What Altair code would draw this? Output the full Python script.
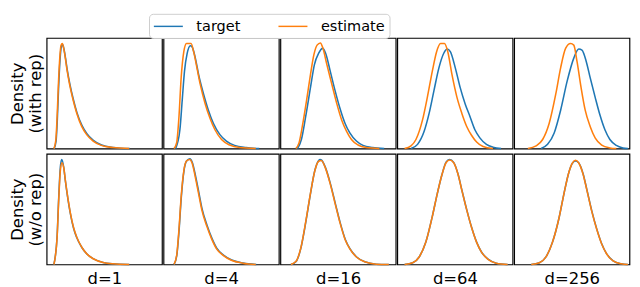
import altair as alt
import pandas as pd

BLUE = "#1f77b4"
ORANGE = "#ff7f0e"

dims = ["d=1", "d=4", "d=16", "d=64", "d=256"]
reps = ["with rep", "w/o rep"]
series = ["target", "estimate"]
row_titles = {"with rep": ["Density", "(with rep)"], "w/o rep": ["Density", "(w/o rep)"]}

# (x, density) pairs, x and density in percent of the panel's range
d1_rep_tgt = [(6.5, 0), (8.2, 7), (9.3, 27), (10.4, 56), (11.6, 80), (12.7, 92), (13.8, 94), (15.0, 90),
              (16.4, 81.5), (17.8, 71.5), (20.1, 58.5), (22.9, 45.5), (26.3, 32.5), (30.6, 21), (34.9, 13.5),
              (40.5, 7.5), (47.6, 3.2), (57.6, 1.0), (72, 0)]
d1_rep_est = [(6.3, 0), (8.0, 8), (9.1, 29), (10.2, 58), (11.4, 82), (12.5, 93.5), (13.6, 95), (14.8, 90.6),
              (16.2, 82), (17.6, 71.5), (19.9, 58), (22.7, 45), (26.1, 32), (30.4, 20), (34.7, 12.6),
              (40.3, 6.8), (47.4, 2.9), (57.4, 0.9), (71.6, 0)]
d1_norep_tgt = [(6.3, 0), (9.1, 26), (10.5, 61), (11.9, 88), (13.1, 95), (14.8, 88), (16.2, 76), (18.2, 61),
                (20.5, 46.5), (23.3, 33), (26.1, 24.4), (30.4, 15.6), (34.7, 9.7), (40.3, 5.3), (48.9, 1.8),
                (57.4, 0.6), (71.6, 0)]
d1_norep_est = [(6.3, 0), (9.1, 25), (10.5, 59), (11.9, 85), (13.3, 92), (14.9, 87), (16.3, 75.5), (18.3, 61),
                (20.6, 46.5), (23.4, 33.2), (26.2, 24.4), (30.5, 15.6), (34.8, 9.6), (40.4, 5.2), (49, 1.8),
                (57.5, 0.6), (71.6, 0)]

d4_rep_tgt = [(10.5, 0), (14.2, 17), (16.2, 43.5), (18.2, 70), (20.5, 86), (23.3, 93), (24.7, 92), (27.6, 81.8),
              (30.4, 67), (34.7, 49.4), (38.9, 34.7), (43.2, 22.9), (48.9, 12.6), (54.5, 6.8), (61.6, 2.9),
              (71.6, 0.9), (83, 0)]
d4_rep_est = [(9.1, 0), (11.4, 5.3), (13.4, 28.8), (15.3, 64), (17.6, 87.6), (19.9, 95), (23.9, 95), (26.1, 87.6),
              (29, 72.9), (31.8, 58.2), (36.1, 40.6), (40.3, 27.4), (44.6, 17), (50.3, 8.2), (57.4, 3.2),
              (65.9, 0.9), (80, 0)]
d4_norep_tgt = [(9.1, 0), (11.5, 8), (13.5, 31), (15.4, 60.5), (17.7, 84.5), (20.0, 93.5), (22.8, 95.5), (24.9, 92.5),
                (27.9, 79.5), (30.7, 64.8), (33.5, 50), (37.8, 35.3), (42.1, 23.4), (46.3, 14.5), (52.0, 8.5),
                (59.1, 4.0), (69.1, 1.3), (80.5, 0)]
d4_norep_est = [(9.1, 0), (11.4, 8.2), (13.4, 31.8), (15.3, 61.2), (17.6, 84.7), (19.9, 93.5), (22.7, 95), (24.7, 92),
                (27.6, 78.8), (30.4, 64.1), (33.2, 49.4), (37.5, 34.7), (41.8, 22.9), (46, 14.1), (51.7, 8.2),
                (58.8, 3.8), (68.8, 1.2), (80, 0)]

d16_rep_tgt = [(14.8, 0), (18.2, 8.2), (21.9, 28.8), (26.1, 55.3), (29.5, 75.9), (33.2, 86.2), (36.6, 90.6),
               (39.2, 86.2), (43.2, 70), (47.4, 52.4), (51.7, 36.2), (56, 22.9), (60.2, 14.1), (65.9, 6.8),
               (71.6, 2.9), (80, 0.9), (90, 0)]
d16_rep_est = [(13.4, 0), (16.2, 5.3), (19, 20), (22.7, 43.5), (26.1, 67), (29, 84.7), (31.8, 93.5), (34.7, 95.5),
               (36.9, 90.6), (40.3, 75.9), (44.6, 58.2), (48.9, 40.6), (53.1, 25.9), (57.4, 15.6), (61.6, 8.2),
               (67.3, 3.2), (74.4, 0.9), (85.8, 0)]
d16_norep_tgt = [(9.1, 0), (13.4, 2.4), (17.6, 14.1), (21.9, 37.6), (26.1, 64.1), (29.8, 84.7), (33.2, 94.1),
                 (34.4, 95), (35.7, 94.3), (39.1, 87.6), (43.4, 72.9), (47.6, 55.3), (51.9, 37.6), (56.2, 22.9),
                 (60.4, 14.1), (66.1, 6.8), (73.2, 2.4), (83, 0.3), (94, 0)]
d16_norep_est = [(9.1, 0), (13.4, 2.6), (17.6, 14.5), (21.9, 38.2), (26.1, 64.5), (29.8, 84.5), (33.2, 93.3),
                 (35.5, 94), (38.9, 87.6), (43.2, 72.9), (47.4, 55.3), (51.7, 37.6), (56, 22.9), (60.2, 14.1),
                 (65.9, 6.8), (73, 2.4), (83, 0.3), (94, 0)]

d64_rep_tgt = [(11.9, 0), (17.6, 3.8), (23.3, 15.6), (27.6, 31.8), (31.8, 52.4), (36.1, 73), (40.3, 86.2),
               (43.2, 90), (46, 87.6), (50.3, 73), (54.5, 55.3), (58.8, 40.6), (63.1, 28.8), (67.3, 17),
               (71.6, 9.7), (77.3, 3.8), (83, 1.2), (90, 0)]
d64_rep_est = [(6.3, 0), (11.9, 2.4), (16.2, 8.2), (21.9, 25.9), (26.1, 46.5), (30.4, 70), (34.1, 87.6),
               (37.5, 95), (40.9, 95), (43.8, 87.6), (47.4, 67), (51.7, 46.5), (56, 31.8), (60.2, 20),
               (64.5, 11.8), (68.8, 5.9), (74.4, 1.8), (83, 0)]
d64_norep_tgt = [(6.3, 0), (13.4, 1.5), (19, 6.8), (24.7, 20), (30.4, 43.5), (34.7, 64.1), (38.9, 81.8),
                 (42.3, 92.5), (45.3, 95), (48.9, 92.3), (52.6, 82), (56, 67.3), (60.2, 49.6), (64.5, 33.4),
                 (68.8, 20.2), (73, 11.3), (78.7, 4.8), (85.8, 1.2), (95.7, 0)]
d64_norep_est = [(6.3, 0), (13.4, 1.5), (19, 6.8), (24.7, 20), (30.4, 43.5), (34.7, 64.1), (38.9, 81.8),
                 (42.3, 92), (45.5, 94.4), (48.9, 92), (52.6, 81.8), (56, 67), (60.2, 49.4), (64.5, 33.2),
                 (68.8, 20), (73, 11.2), (78.7, 4.7), (85.8, 1.2), (95.7, 0)]

d256_rep_tgt = [(23.3, 0), (29, 3.8), (34.7, 14.1), (40.3, 34.7), (46, 61.2), (51.7, 81.8), (56, 90),
                (58.8, 89), (62.5, 78.8), (65.9, 64.1), (70.2, 46.5), (74.4, 30.3), (78.7, 17), (83, 8.2),
                (88.6, 2.9), (94.3, 0.6), (98.6, 0)]
d256_rep_est = [(11.9, 0), (19, 2.4), (24.7, 8.2), (30.4, 22.9), (36.1, 49.4), (40.3, 73), (44.6, 90.6),
                (48.9, 95), (51.7, 93.5), (54.5, 78.8), (58, 55.3), (61.6, 34.7), (65.9, 20), (70.2, 9.7),
                (75.9, 3.2), (83, 0.6), (88.6, 0)]
d256_norep_tgt = [(14.8, 0), (21.9, 1.5), (27.6, 6.8), (33.2, 20), (38.9, 42), (43.2, 64.1), (47.4, 83.2),
                  (50.3, 91.2), (53.1, 93.5), (55.9, 92), (59.7, 82.3), (63.1, 67.5), (67.3, 48.5), (71.6, 32.2),
                  (75.9, 18.8), (80.1, 9.9), (85.8, 3.3), (92.9, 0.6), (98.6, 0)]
d256_norep_est = [(14.8, 0), (21.9, 1.5), (27.6, 6.8), (33.2, 20), (38.9, 42), (43.2, 64.1), (47.4, 83.2),
                  (50.3, 91.5), (53.1, 94.3), (55.9, 92), (59.7, 81.8), (63.1, 67), (67.3, 48), (71.6, 31.8),
                  (75.9, 18.5), (80.1, 9.7), (85.8, 3.2), (92.9, 0.6), (98.6, 0)]

curves = {
    ("d=1", "with rep", "target"): d1_rep_tgt, ("d=1", "with rep", "estimate"): d1_rep_est,
    ("d=1", "w/o rep", "target"): d1_norep_tgt, ("d=1", "w/o rep", "estimate"): d1_norep_est,
    ("d=4", "with rep", "target"): d4_rep_tgt, ("d=4", "with rep", "estimate"): d4_rep_est,
    ("d=4", "w/o rep", "target"): d4_norep_tgt, ("d=4", "w/o rep", "estimate"): d4_norep_est,
    ("d=16", "with rep", "target"): d16_rep_tgt, ("d=16", "with rep", "estimate"): d16_rep_est,
    ("d=16", "w/o rep", "target"): d16_norep_tgt, ("d=16", "w/o rep", "estimate"): d16_norep_est,
    ("d=64", "with rep", "target"): d64_rep_tgt, ("d=64", "with rep", "estimate"): d64_rep_est,
    ("d=64", "w/o rep", "target"): d64_norep_tgt, ("d=64", "w/o rep", "estimate"): d64_norep_est,
    ("d=256", "with rep", "target"): d256_rep_tgt, ("d=256", "with rep", "estimate"): d256_rep_est,
    ("d=256", "w/o rep", "target"): d256_norep_tgt, ("d=256", "w/o rep", "estimate"): d256_norep_est,
}

records = []
for (d, r, s), pts in curves.items():
    for i, (x, y) in enumerate(pts):
        records.append({"d": d, "rep": r, "series": s, "x": x, "y": y, "i": i})
df = pd.DataFrame(records)

W = 119.4
H = 114.5

color = alt.Color(
    "series:N",
    scale=alt.Scale(domain=series, range=[BLUE, ORANGE]),
    legend=alt.Legend(
        title=None, orient="none", legendX=106, legendY=-25, direction="horizontal",
        symbolType="M-1,0H2.75", symbolStrokeWidth=1.5, symbolSize=256,
        labelFontSize=15, labelFont="DejaVu Sans", labelColor="black", labelOffset=27,
        columnPadding=36, padding=4, strokeColor="#cccccc", cornerRadius=4, fillColor="white",
    ),
)


def panel(d, r, first_col, last_row):
    xaxis = alt.Axis(title=d, ticks=False, labels=False, domain=False, grid=False,
                     titleFontSize=17, titlePadding=7) if last_row else None
    yaxis = alt.Axis(title=row_titles[r], ticks=False, labels=False, domain=False, grid=False,
                     titleFontSize=17, titleLineHeight=19, titlePadding=2) if first_col else None
    layers = []
    for s in series:
        layers.append(
            alt.Chart(df)
            .transform_filter((alt.datum.d == d) & (alt.datum.rep == r) & (alt.datum.series == s))
            .mark_line(strokeWidth=1.6, interpolate="monotone")
            .encode(
                x=alt.X("x:Q", scale=alt.Scale(domain=[0, 100], nice=False, zero=False), axis=xaxis),
                y=alt.Y("y:Q", scale=alt.Scale(domain=[0, 100], nice=False), axis=yaxis),
                color=color,
                order="i:Q",
            )
        )
    return alt.layer(*layers).properties(width=W, height=H)


rows = []
for ri, r in enumerate(reps):
    rows.append(alt.hconcat(*[panel(d, r, ci == 0, ri == 1) for ci, d in enumerate(dims)], spacing=0))

chart = (
    alt.vconcat(*rows, spacing=0)
    .properties(padding={"left": 0, "top": 0, "right": 0, "bottom": 0})
    .configure(font="DejaVu Sans")
    .configure_view(stroke="black", strokeWidth=1.2)
    .configure_axis(titleFont="DejaVu Sans", titleColor="black", titleFontWeight="normal")
)

chart.save("out.html", embed_options={"renderer": "svg", "actions": False})
